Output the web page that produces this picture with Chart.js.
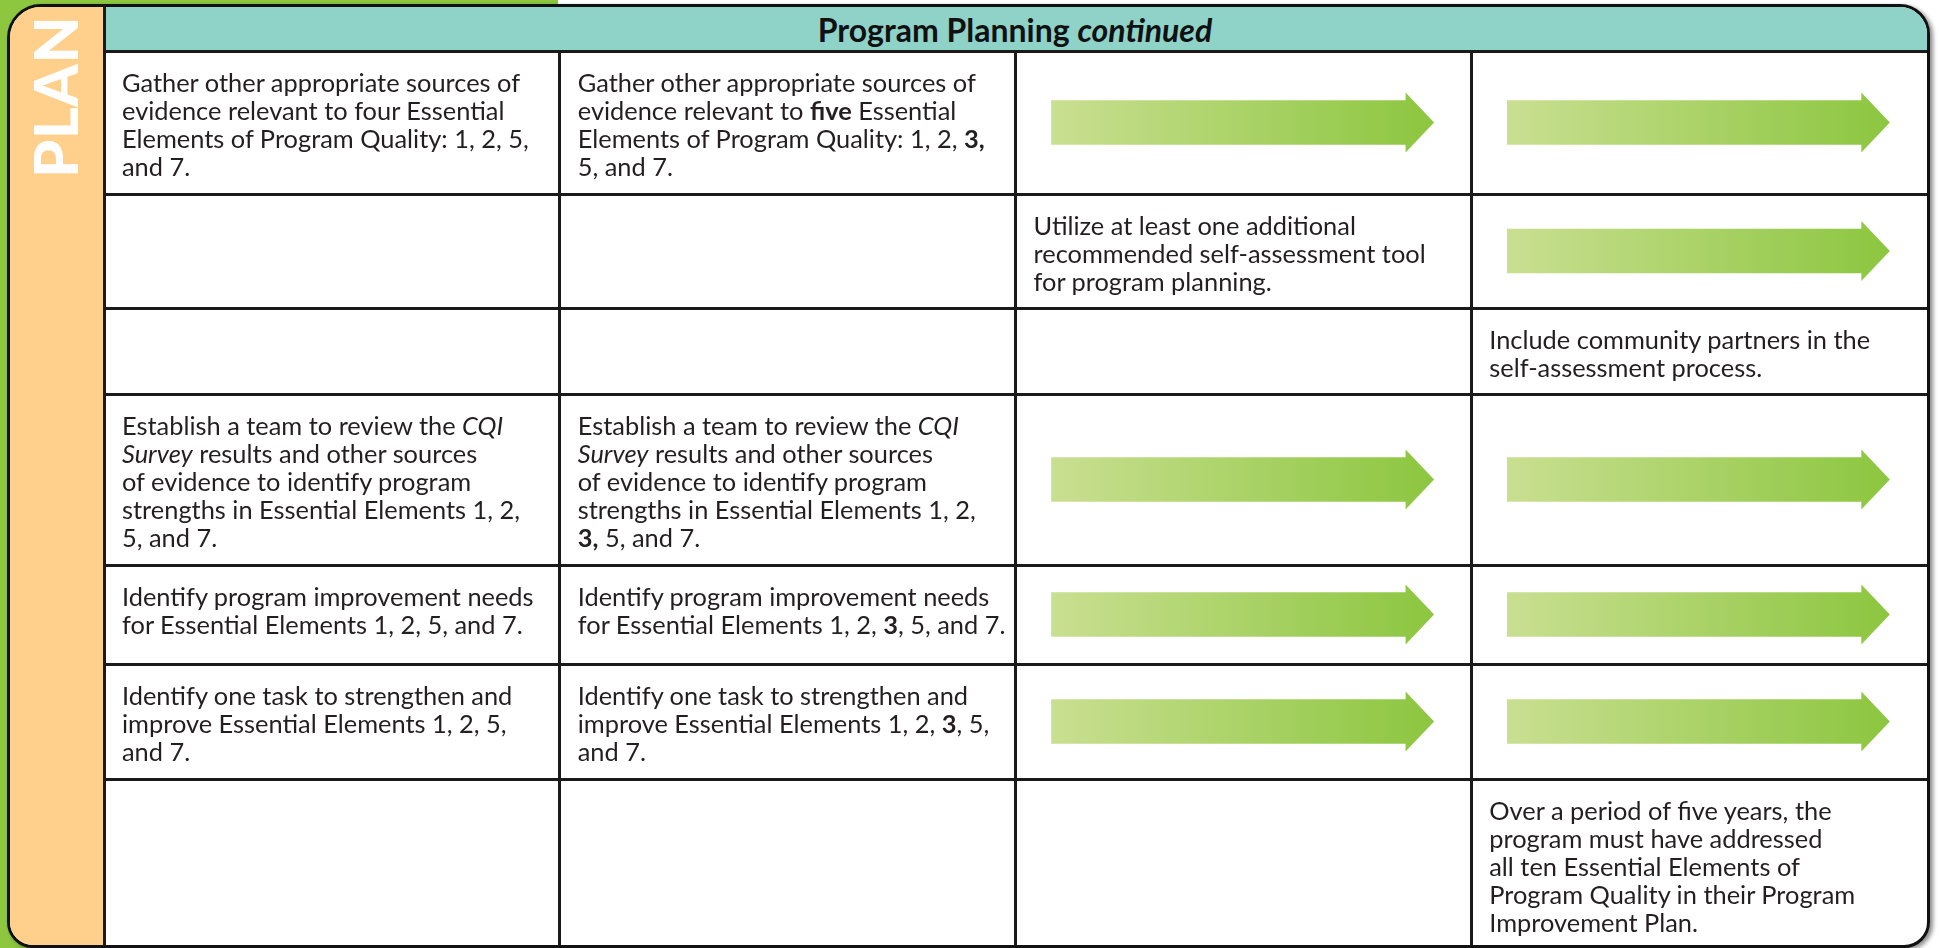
<!DOCTYPE html>
<html>
<head>
<meta charset="utf-8">
<script src="https://cdn.jsdelivr.net/npm/chart.js@4.4.1/dist/chart.umd.min.js"></script>
<style>
  html, body { margin:0; padding:0; }
  body { width:1939px; height:948px; position:relative; overflow:hidden; background:#ffffff; font-family:'Lato', 'Open Sans', sans-serif; color:#231f20; }
  #green { position:absolute; left:0; top:0; width:558px; height:948px; background:#8dc63f; }
  #frame { position:absolute; left:7px; top:4px; width:1923px; height:944px; box-sizing:border-box; border:3px solid #111; border-radius:34px 30px 26px 26px; background:#fff; overflow:hidden; box-shadow:3px 2px 4px rgba(0,0,0,0.45); }
  #side { position:absolute; left:0; top:0; width:94px; height:100%; background:#fed08b; }
  #head { position:absolute; left:94px; top:0; right:0; height:44px; background:#8fd2c8; }
  #vline { position:absolute; left:103px; top:5px; width:3px; height:47px; background:#1a1a1a; }
  #plan { position:absolute; left:25px; top:178px; width:175px; height:60px; line-height:60px; font-size:61px; font-weight:900; color:#fff; transform:rotate(-90deg); transform-origin:0 0; white-space:nowrap; letter-spacing:0.5px; }
  #title { position:absolute; left:104px; width:1822px; top:7px; height:44px; display:flex; align-items:center; justify-content:center; font-size:32px; font-weight:700; color:#111; white-space:pre; }
  #c { position:absolute; left:0; top:0; }
  .cell { position:absolute; font-size:25.4px; line-height:28px; white-space:pre; color:#231f20; }
  .cell b { font-weight:700; }
</style>
</head>
<body>
<div id="green"></div>
<div id="frame"><div id="side"></div><div id="head"></div></div>
<div id="vline"></div>
<div id="plan">PLAN</div>
<div id="title">Program Planning <i>continued</i></div>
<canvas id="c" width="1939" height="948"></canvas>
<div id="cells"></div>
<script>
// ---- data ----
const rowIds = ['gather', 'utilize', 'community', 'team', 'needs', 'task', 'fiveYears'];

const col1Text = [
  'Gather other appropriate sources of\nevidence relevant to four Essential\nElements of Program Quality: 1, 2, 5,\nand 7.',
  '',
  '',
  'Establish a team to review the _CQI_\n_Survey_ results and other sources\nof evidence to identify program\nstrengths in Essential Elements 1, 2,\n5, and 7.',
  'Identify program improvement needs\nfor Essential Elements 1, 2, 5, and 7.',
  'Identify one task to strengthen and\nimprove Essential Elements 1, 2, 5,\nand 7.',
  ''
];
const col2Text = [
  'Gather other appropriate sources of\nevidence relevant to **five** Essential\nElements of Program Quality: 1, 2, **3,**\n5, and 7.',
  '',
  '',
  'Establish a team to review the _CQI_\n_Survey_ results and other sources\nof evidence to identify program\nstrengths in Essential Elements 1, 2,\n**3,** 5, and 7.',
  'Identify program improvement needs\nfor Essential Elements 1, 2, **3**, 5, and 7.',
  'Identify one task to strengthen and\nimprove Essential Elements 1, 2, **3**, 5,\nand 7.',
  ''
];
const col3Text = [
  '',
  'Utilize at least one additional\nrecommended self-assessment tool\nfor program planning.',
  '', '', '', '', ''
];
const col4Text = [
  '',
  '',
  'Include community partners in the\nself-assessment process.',
  '', '', '',
  'Over a period of five years, the\nprogram must have addressed\nall ten Essential Elements of\nProgram Quality in their Program\nImprovement Plan.'
];
// continuation arrows (1 = arrow in that row)
const arrowsCol3 = [1, 0, 0, 1, 1, 1, 0];
const arrowsCol4 = [1, 1, 0, 1, 1, 1, 0];

// ---- layout ----
const rowHeights = [143, 114, 86, 171, 99, 115, 167];
const rowTops = [];
rowHeights.reduce((acc, h) => { rowTops.push(acc); return acc + h; }, 0);
const gridBottom = rowHeights.reduce((a, b) => a + b, 0);
const rowEdges = rowTops.concat([gridBottom]);
const rowCenters = rowTops.map((t, i) => t + rowHeights[i] / 2);
const ARROW_START = 0.079, ARROW_BODY_END = 0.857;
const HEAD_LEN = 28, HEAD_HALF = 30, BODY_THICK = 44;
const LINE = '#1a1a1a';
const ARROW_LIGHT = '#c9df91', ARROW_DARK = '#8cc63f';

const arrowData = [];
[[2, arrowsCol3], [3, arrowsCol4]].forEach(([c, arr]) => {
  arr.forEach((v, i) => { if (v) arrowData.push({ x: [c + ARROW_START, c + ARROW_BODY_END], y: rowCenters[i] }); });
});

function arrowGradient(ctx, el) {
  const x0 = Math.min(el.base, el.x), x1 = Math.max(el.base, el.x) + HEAD_LEN;
  const g = ctx.createLinearGradient(x0, 0, x1, 0);
  g.addColorStop(0, ARROW_LIGHT);
  g.addColorStop(1, ARROW_DARK);
  return g;
}

// gradient fill for each arrow body and a head at the end of each bar
const arrowShapes = {
  id: 'arrowShapes',
  beforeDatasetsDraw(chart) {
    const ctx = chart.ctx;
    chart.getDatasetMeta(0).data.forEach(el => {
      if (!isFinite(el.base) || !isFinite(el.x)) return;
      el.options = Object.assign({}, el.options, { backgroundColor: arrowGradient(ctx, el) });
    });
  },
  afterDatasetsDraw(chart) {
    const ctx = chart.ctx;
    ctx.save();
    chart.getDatasetMeta(0).data.forEach(el => {
      const x = el.x, y = el.y;
      if (!isFinite(x) || !isFinite(y) || !isFinite(el.base)) return;
      ctx.fillStyle = arrowGradient(ctx, el);
      ctx.beginPath();
      ctx.moveTo(x - 0.5, y - HEAD_HALF);
      ctx.lineTo(x + HEAD_LEN, y);
      ctx.lineTo(x - 0.5, y + HEAD_HALF);
      ctx.closePath();
      ctx.fill();
    });
    ctx.restore();
  }
};

const chart = new Chart(document.getElementById('c'), {
  type: 'bar',
  data: {
    datasets: [{
      data: arrowData,
      backgroundColor: '#a9d16b',
      borderWidth: 0,
      barThickness: BODY_THICK
    }]
  },
  options: {
    indexAxis: 'y',
    responsive: false,
    devicePixelRatio: 1,
    animation: false,
    events: [],
    layout: { padding: { left: 104, top: 51, right: 12, bottom: 2 } },
    plugins: { legend: { display: false }, tooltip: { enabled: false }, title: { display: false } },
    scales: {
      x: {
        type: 'linear', min: 0, max: 4, offset: false,
        afterBuildTicks: (axis) => { axis.ticks = [0, 1, 2, 3, 4].map(v => ({ value: v })); },
        ticks: { display: false },
        border: { display: false },
        grid: { offset: false, drawTicks: false, lineWidth: 3, color: (c) => (c.tick && c.tick.value === 4) ? 'rgba(0,0,0,0)' : LINE }
      },
      y: {
        type: 'linear', min: 0, max: gridBottom, reverse: true, offset: false,
        afterBuildTicks: (axis) => { axis.ticks = rowEdges.map(v => ({ value: v })); },
        ticks: { display: false },
        border: { display: false },
        grid: { offset: false, drawTicks: false, lineWidth: 3, color: (c) => (c.tick && c.tick.value === gridBottom) ? 'rgba(0,0,0,0)' : LINE }
      }
    }
  },
  plugins: [arrowShapes]
});

// ---- cell text, placed through the chart scales ----
function markup(s) {
  return s.replace(/&/g, '&amp;').replace(/</g, '&lt;')
    .replace(/\*\*(.+?)\*\*/g, '<b>$1</b>')
    .replace(/_(.+?)_/g, '<i>$1</i>');
}
const cells = document.getElementById('cells');
const xs = chart.scales.x, ys = chart.scales.y;
[col1Text, col2Text, col3Text, col4Text].forEach((col, c) => {
  col.forEach((txt, r) => {
    if (!txt) return;
    const d = document.createElement('div');
    d.className = 'cell';
    d.style.left = (xs.getPixelForValue(c) + 18) + 'px';
    d.style.top = (ys.getPixelForValue(rowTops[r]) + 17) + 'px';
    d.innerHTML = markup(txt);
    d.dataset.row = rowIds[r];
    cells.appendChild(d);
  });
});
</script>
</body>
</html>
